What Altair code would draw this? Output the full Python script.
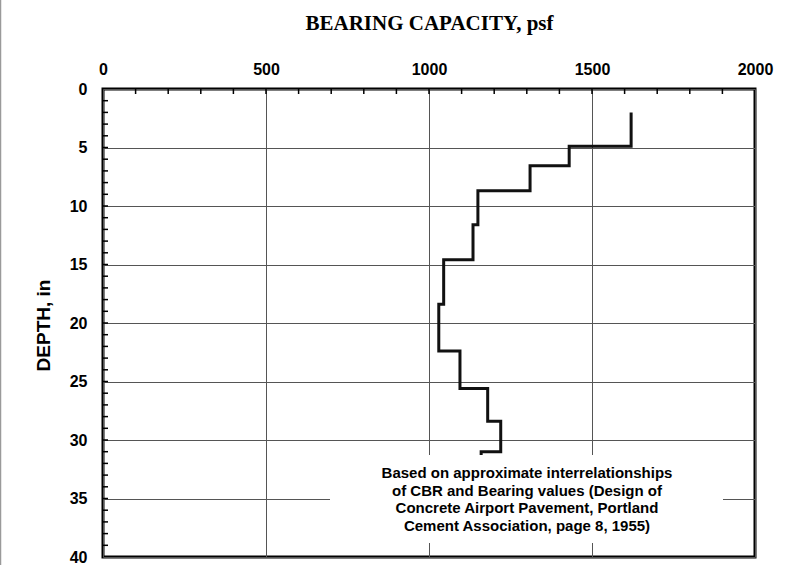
import altair as alt
import pandas as pd

# Depth boundaries (in) and the bearing capacity (psf) held over each interval
depth_breaks = [2, 4.9, 6.55, 8.7, 11.6, 14.6, 18.4, 22.4, 25.6, 28.4, 31.0, 31.3]
bearing_psf = [1620, 1430, 1310, 1150, 1135, 1045, 1030, 1095, 1180, 1220, 1160]

x_major = [0, 500, 1000, 1500, 2000]
y_major = [0, 5, 10, 15, 20, 25, 30, 35, 40]
x_minor = list(range(100, 2000, 100))
y_minor = list(range(1, 40))

note_lines = [
    "Based on approximate interrelationships",
    "of CBR and Bearing values (Design of",
    "Concrete Airport Pavement, Portland",
    "Cement Association, page 8, 1955)",
]

# Expand the interval table into the corner points of a vertical step profile
rows = []
k = 0
for i, v in enumerate(bearing_psf):
    rows.append({"bearing": v, "depth": depth_breaks[i], "k": k}); k += 1
    rows.append({"bearing": v, "depth": depth_breaks[i + 1], "k": k}); k += 1
profile = pd.DataFrame(rows)

W, H = 652, 468
SANS = "Liberation Sans"

x_scale = alt.Scale(domain=[0, 2000], nice=False, zero=False)
y_scale = alt.Scale(domain=[0, 40], reverse=True, nice=False, zero=False)

x_axis = alt.Axis(
    orient="top", values=x_major, format="d", grid=True, gridColor="#555555",
    gridWidth=1, domain=False, ticks=False, labelFont=SANS,
    labelFontWeight="bold", labelFontSize=16, labelColor="black",
    labelPadding=12, labelFlush=False,
    title="BEARING CAPACITY, psf", titleFont="Liberation Serif",
    titleFontWeight="bold", titleFontSize=21, titleColor="black",
    titlePadding=28,
)
y_axis = alt.Axis(
    orient="left", values=y_major, format="d", grid=True, gridColor="#555555",
    gridWidth=1, domain=False, ticks=False, labelFont=SANS,
    labelFontWeight="bold", labelFontSize=16, labelColor="black",
    labelPadding=16, labelFlush=False,
    title="DEPTH, in", titleFont=SANS, titleFontWeight="bold", titleFontSize=19,
    titleColor="black", titleX=-60, titleY=236, titleAngle=270,
    titleAlign="center", titleBaseline="middle",
)

line = alt.Chart(profile).mark_line(color="#111111", strokeWidth=3).encode(
    x=alt.X("bearing:Q", scale=x_scale, axis=x_axis),
    y=alt.Y("depth:Q", scale=y_scale, axis=y_axis),
    order="k:Q",
)

top_ticks = alt.Chart(pd.DataFrame({"v": x_minor})).mark_rule(
    color="black", strokeWidth=1.5
).encode(x=alt.X("v:Q", scale=x_scale), y=alt.value(0), y2=alt.value(5))

left_ticks = alt.Chart(pd.DataFrame({"d": y_minor})).mark_rule(
    color="black", strokeWidth=1.5
).encode(y=alt.Y("d:Q", scale=y_scale), x=alt.value(0), x2=alt.value(5))

note_box = alt.Chart(pd.DataFrame({"a": [0]})).mark_rect(color="white").encode(
    x=alt.value(227), x2=alt.value(620), y=alt.value(366), y2=alt.value(454)
)

note_text = alt.Chart(pd.DataFrame({"a": [0]})).mark_text(
    text=note_lines, font=SANS, fontWeight="bold", fontSize=15,
    lineHeight=17.5, align="center", baseline="middle", color="black",
).encode(x=alt.value(424), y=alt.value(384))

edge = alt.Chart(pd.DataFrame({"a": [0]})).mark_rule(
    color="#9a9a9a", strokeWidth=1.5
).encode(x=alt.value(-102.5), y=alt.value(-89), y2=alt.value(476))

chart = alt.layer(
    top_ticks, left_ticks, line, note_box, note_text, edge
).properties(
    width=W, height=H,
    autosize=alt.AutoSizeParams(type="none"),
    padding={"left": 103, "top": 89, "right": 33, "bottom": 8},
).configure(
    background="white"
).configure_view(
    stroke="black", strokeWidth=3
)

chart.save("out.html", embed_options={"renderer": "svg", "actions": False})
